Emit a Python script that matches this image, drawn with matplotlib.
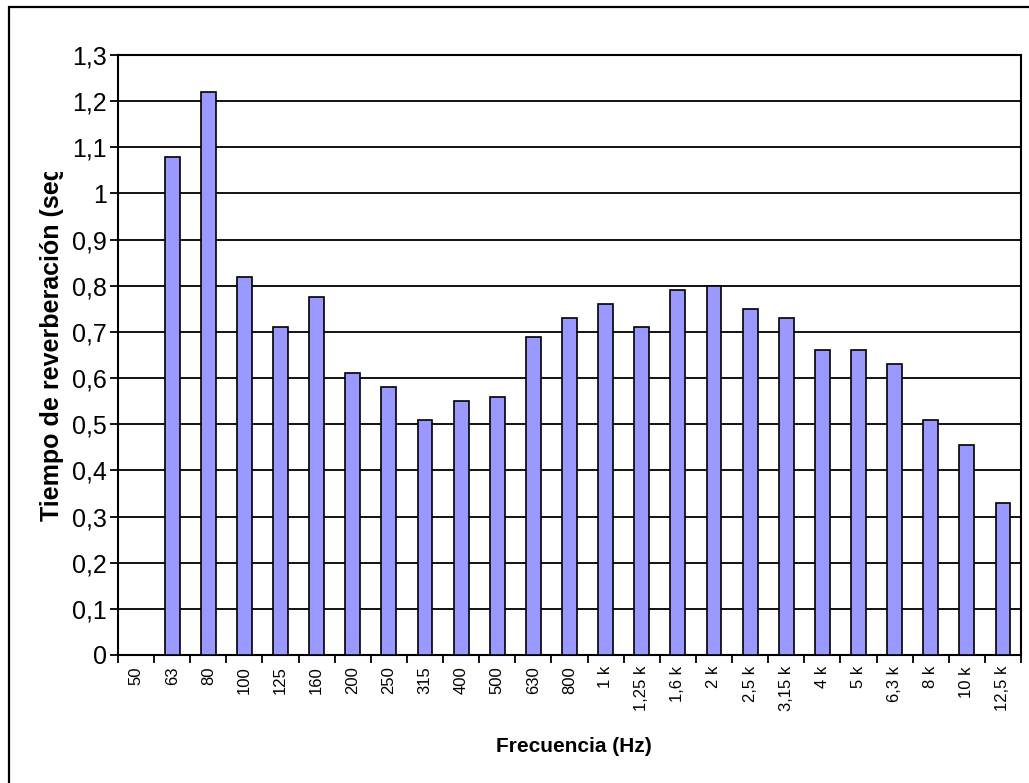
import numpy as np
import matplotlib
matplotlib.use("Agg")
import matplotlib.pyplot as plt
from matplotlib.patches import Rectangle
from matplotlib.transforms import Bbox, TransformedBbox

plt.rcParams['font.family'] = ['Liberation Sans', 'DejaVu Sans']

# Third-octave band centre frequencies and measured reverberation time (s)
bands = ['50', '63', '80', '100', '125', '160', '200', '250', '315', '400',
         '500', '630', '800', '1 k', '1,25 k', '1,6 k', '2 k', '2,5 k',
         '3,15 k', '4 k', '5 k', '6,3 k', '8 k', '10 k', '12,5 k']
rt_seconds = [np.nan, 1.08, 1.22, 0.82, 0.71, 0.775, 0.61, 0.58, 0.51, 0.55,
              0.56, 0.69, 0.73, 0.76, 0.71, 0.79, 0.80, 0.75,
              0.73, 0.66, 0.66, 0.63, 0.51, 0.455, 0.33]
y_ticks = [0, 0.1, 0.2, 0.3, 0.4, 0.5, 0.6, 0.7, 0.8, 0.9, 1.0, 1.1, 1.2, 1.3]
y_ticklabels = ['0', '0,1', '0,2', '0,3', '0,4', '0,5', '0,6', '0,7', '0,8',
                '0,9', '1', '1,1', '1,2', '1,3']

W, H = 1029, 783
fig = plt.figure(figsize=(W / 100, H / 100), dpi=100)
ax = fig.add_axes([118 / W, 1 - 655 / H, (1021 - 118) / W, (655 - 55) / H])

x = np.arange(len(bands))
ax.bar(x, rt_seconds, width=0.41, color='#9999FF', edgecolor='black',
       linewidth=1.2, zorder=3)

ax.set_xlim(-0.5, len(bands) - 0.5)
ax.set_ylim(0, 1.3)
ax.set_yticks(y_ticks)
ax.set_yticklabels(y_ticklabels, fontsize=18)
ax.yaxis.grid(True, color='black', linewidth=1.3, zorder=1)
ax.set_axisbelow(True)

# labels sit at the band centres, tick marks between bands
ax.set_xticks(x)
ax.set_xticklabels(bands, rotation=90, fontsize=12)
ax.set_xticks(np.arange(len(bands) + 1) - 0.5, minor=True)
ax.tick_params(axis='x', which='major', length=0, pad=8)
ax.tick_params(axis='x', which='minor', length=6, width=1.3, direction='out')
ax.tick_params(axis='y', length=6, width=1.3, pad=2)

for s in ax.spines.values():
    s.set_linewidth(1.5)
    s.set_color('black')

ax.set_xlabel('Frecuencia (Hz)', fontsize=15, fontweight='bold')
ax.xaxis.set_label_coords(574 / W, 1 - 747 / H, transform=fig.transFigure)
ax.xaxis.label.set_va('center')

# y title, cut off at the top like the original chart object
ylab = fig.text(52 / W, 1 - 521 / H, 'Tiempo de reverberación (seg)',
                rotation=90, ha='center', va='bottom', fontsize=18,
                fontweight='bold')
ylab.set_clip_box(TransformedBbox(Bbox([[0, 0], [0.2, 1 - 172 / H]]),
                                  fig.transFigure))
ylab.set_clip_on(True)

# chart-area frame (right and bottom edges fall outside the image)
fig.patches.append(Rectangle((9 / W, -0.1), 1.2, 1.1 - 7 / H, fill=False,
                             edgecolor='black', linewidth=1.6,
                             transform=fig.transFigure))

fig.savefig('out.png', dpi=100)
